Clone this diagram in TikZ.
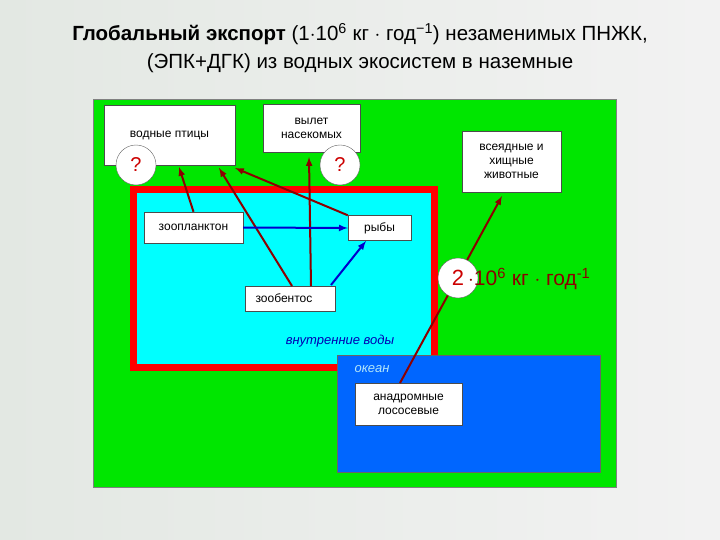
\documentclass[tikz,border=0pt]{standalone}
\usepackage{fontspec}
\setmainfont{Liberation Sans}
\begin{document}
\begin{tikzpicture}[x=1pt,y=-1pt,
  wbox/.style={draw=black!70,fill=white,inner sep=0pt,align=center,font=\fontsize{12}{14}\selectfont},
  qc/.style={draw=black!60,fill=white,circle,minimum size=40pt,inner sep=0pt,text=red!80!black},
  br/.style={draw=red!55!black,line width=2pt,-latex},
  bl/.style={draw=blue!80!black,line width=2pt,-latex}]
\useasboundingbox (0,0) rectangle (720,540);
\fill[left color=green!10!gray!20,right color=gray!10] (0,0) rectangle (720,540);
\node[align=center,font=\fontsize{20.5}{28}\selectfont] (title) at (360,48) {\textbf{Глобальный экспорт} (1$\cdot$10\textsuperscript{6} кг $\cdot$ год\textsuperscript{−1}) незаменимых ПНЖК,\\(ЭПК+ДГК) из водных экосистем в наземные};
\path[fill={rgb,255:red,0;green,230;blue,0},draw=black!50] (93,99) rectangle (616,487);
\path[fill={rgb,255:red,0;green,255;blue,255},draw={rgb,255:red,255;green,0;blue,0},line width=7pt] (133,190) rectangle (434,367);
\path[fill={rgb,255:red,0;green,102;blue,255},draw=black!60] (337,355) rectangle (600,472);
\node[font=\itshape\fontsize{13}{15}\selectfont,text=blue!70!black] (iw) at (340,341) {внутренние воды};
\node[font=\itshape\fontsize{13}{15}\selectfont,text=cyan!30!white] (oc) at (372,369) {океан};
\node[wbox,minimum width=131pt,minimum height=60pt] (bird) at (169.5,135) {водные птицы};
\node[wbox,minimum width=97pt,minimum height=48pt] (ins) at (311.5,128) {вылет\\насекомых};
\node[wbox,minimum width=99pt,minimum height=61pt] (omn) at (511.5,161.5) {всеядные и\\хищные\\животные};
\node[wbox,minimum width=99pt,minimum height=31pt] (zp) at (193.5,227.5) {зоопланктон};
\node[wbox,minimum width=63pt,minimum height=25pt] (fish) at (379.5,228) {рыбы};
\node[wbox,minimum width=90pt,minimum height=25pt] (zb) at (290,298.5) {\hspace*{-12pt}зообентос};
\node[wbox,minimum width=107pt,minimum height=42pt] (an) at (408.5,404) {анадромные\\лососевые};
\node[qc,font=\fontsize{20}{22}\selectfont] (q1) at (136,165) {?};
\node[qc,font=\fontsize{20}{22}\selectfont] (q2) at (340,165) {?};
\coordinate (a1) at (179,167);
\coordinate (a2) at (219,168);
\coordinate (a3) at (235,168);
\coordinate (a4) at (309,157);
\coordinate (a5) at (502,196);
\coordinate (s2) at (292,286);
\coordinate (s4) at (311,286);
\coordinate (s5) at (400,383);
\coordinate (s6) at (331,285);
\coordinate (e6) at (366,241);
\draw[br] (zp.north) -- (a1);
\draw[br] (s2) -- (a2);
\draw[br] (fish.north west) -- (a3);
\draw[br] (s4) -- (a4);
\draw[br] (s5) -- (a5);
\draw[bl] (zp.east) -- (fish.west);
\draw[bl] (s6) -- (e6);
\node[qc,font=\fontsize{22}{24}\selectfont] (q3) at (458,278) {2};
\node[anchor=west,inner sep=0pt,font=\fontsize{21}{24}\selectfont,text=red!55!black] (lab) at (468,279) {$\cdot$10\textsuperscript{6} кг $\cdot$ год\textsuperscript{-1}};
\end{tikzpicture}
\end{document}
